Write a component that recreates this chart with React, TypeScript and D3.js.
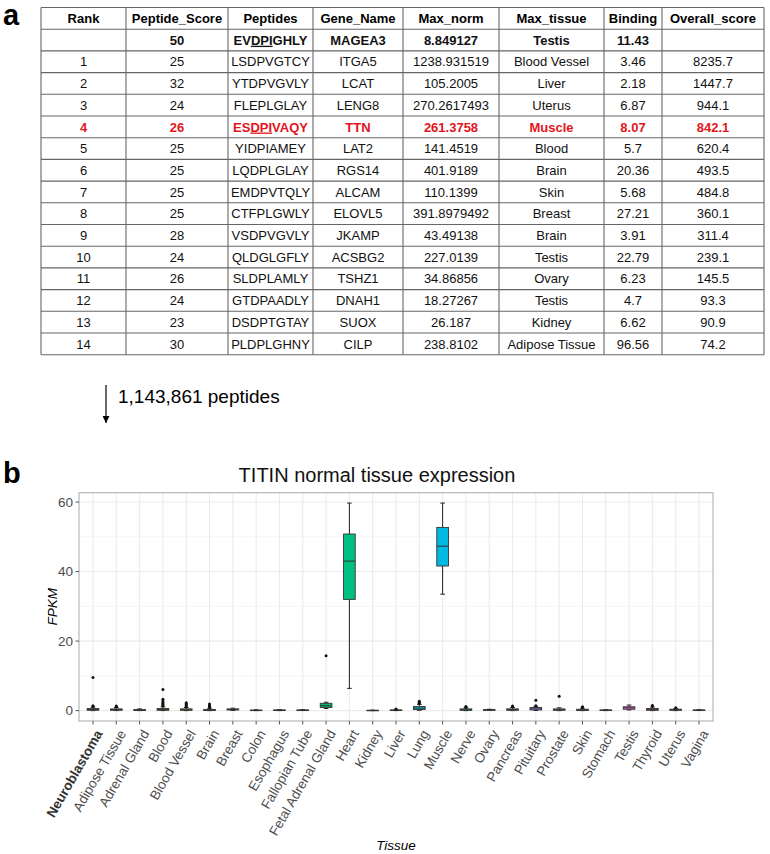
import React, { useRef, useEffect } from 'react';
import * as d3 from 'd3';

// ---- table (panel a) ----
const headers = ["Rank", "Peptide_Score", "Peptides", "Gene_Name", "Max_norm", "Max_tissue", "Binding", "Overall_score"];
const ranks = ["", "1", "2", "3", "4", "5", "6", "7", "8", "9", "10", "11", "12", "13", "14"];
const peptideScores = ["50", "25", "32", "24", "26", "25", "25", "25", "25", "28", "24", "26", "24", "23", "30"];
const peptides = ["EVDPIGHLY", "LSDPVGTCY", "YTDPVGVLY", "FLEPLGLAY", "ESDPIVAQY", "YIDPIAMEY", "LQDPLGLAY", "EMDPVTQLY", "CTFPLGWLY", "VSDPVGVLY", "QLDGLGFLY", "SLDPLAMLY", "GTDPAADLY", "DSDPTGTAY", "PLDPLGHNY"];
const geneNames = ["MAGEA3", "ITGA5", "LCAT", "LENG8", "TTN", "LAT2", "RGS14", "ALCAM", "ELOVL5", "JKAMP", "ACSBG2", "TSHZ1", "DNAH1", "SUOX", "CILP"];
const maxNorms = ["8.849127", "1238.931519", "105.2005", "270.2617493", "261.3758", "141.4519", "401.9189", "110.1399", "391.8979492", "43.49138", "227.0139", "34.86856", "18.27267", "26.187", "238.8102"];
const maxTissues = ["Testis", "Blood Vessel", "Liver", "Uterus", "Muscle", "Blood", "Brain", "Skin", "Breast", "Brain", "Testis", "Ovary", "Testis", "Kidney", "Adipose Tissue"];
const bindings = ["11.43", "3.46", "2.18", "6.87", "8.07", "5.7", "20.36", "5.68", "27.21", "3.91", "22.79", "6.23", "4.7", "6.62", "96.56"];
const overallScores = ["", "8235.7", "1447.7", "944.1", "842.1", "620.4", "493.5", "484.8", "360.1", "311.4", "239.1", "145.5", "93.3", "90.9", "74.2"];

const peptideCount = "1,143,861 peptides";

// ---- boxplot (panel b) ----
const tissues = ["Neuroblastoma", "Adipose Tissue", "Adrenal Gland", "Blood", "Blood Vessel", "Brain", "Breast", "Colon", "Esophagus", "Fallopian Tube", "Fetal Adrenal Gland", "Heart", "Kidney", "Liver", "Lung", "Muscle", "Nerve", "Ovary", "Pancreas", "Pituitary", "Prostate", "Skin", "Stomach", "Testis", "Thyroid", "Uterus", "Vagina"];
const whiskerLow = [0, 0, 0, 0, 0, 0, 0.05, 0, 0, 0.02, 0.6, 6.4, 0, 0, 0.1, 33.5, 0, 0.05, 0, 0.05, 0, 0, 0, 0.2, 0, 0, 0.02];
const q1 = [0.1, 0.1, 0.05, 0.1, 0.1, 0.05, 0.2, 0.02, 0.05, 0.05, 0.9, 32.0, 0.02, 0.05, 0.3, 41.6, 0.1, 0.1, 0.1, 0.2, 0.1, 0.05, 0.05, 0.4, 0.1, 0.1, 0.05];
const medians = [0.3, 0.3, 0.15, 0.3, 0.25, 0.15, 0.3, 0.08, 0.1, 0.1, 1.4, 43.0, 0.05, 0.1, 0.7, 47.3, 0.25, 0.2, 0.3, 0.5, 0.25, 0.2, 0.1, 0.8, 0.3, 0.25, 0.1];
const q3 = [0.6, 0.5, 0.3, 0.6, 0.5, 0.35, 0.5, 0.15, 0.2, 0.2, 2.1, 50.8, 0.1, 0.2, 1.2, 52.7, 0.5, 0.3, 0.5, 0.9, 0.5, 0.4, 0.2, 1.1, 0.6, 0.4, 0.2];
const whiskerHigh = [1.0, 0.9, 0.5, 1.1, 0.9, 0.7, 0.7, 0.25, 0.3, 0.3, 2.4, 59.7, 0.15, 0.35, 1.8, 59.7, 0.8, 0.4, 0.9, 1.2, 0.8, 0.7, 0.3, 1.6, 1.0, 0.6, 0.3];
const outliers = [
  [1.2, 1.4, 9.5],
  [1.1, 1.3],
  [],
  [1.4, 1.7, 2.0, 2.3, 2.8, 3.3, 6.1],
  [1.1, 1.4, 1.7, 2.0, 2.3],
  [0.9, 1.2, 1.5, 1.9],
  [],
  [],
  [],
  [],
  [15.8],
  [],
  [],
  [0.5],
  [2.1, 2.4, 2.7],
  [],
  [1.0, 1.2],
  [],
  [1.1, 1.3],
  [1.4, 3.0],
  [4.1],
  [0.9, 1.1],
  [],
  [],
  [1.3, 1.5],
  [0.8],
  []
];
const yTicks = [0, 20, 40, 60];
const yMinorTicks = [10, 30, 50];

const FONT = "'Liberation Sans', Arial, Helvetica, sans-serif";

// ggplot2-like hue palette (polar LUV, c=100, l=65)
function hueColor(h: number) {
  const L = 65, C = 100;
  const hr = (h * Math.PI) / 180;
  const u = C * Math.cos(hr), v = C * Math.sin(hr);
  const Xn = 95.047, Yn = 100, Zn = 108.883;
  const den = Xn + 15 * Yn + 3 * Zn;
  const un = (4 * Xn) / den, vn = (9 * Yn) / den;
  const Y = Yn * Math.pow((L + 16) / 116, 3);
  const up = u / (13 * L) + un, vp = v / (13 * L) + vn;
  const X = (Y * 9 * up) / (4 * vp);
  const Z = (Y * (12 - 3 * up - 20 * vp)) / (4 * vp);
  const x = X / 100, y = Y / 100, z = Z / 100;
  const lin = [
    3.2404542 * x - 1.5371385 * y - 0.4985314 * z,
    -0.969266 * x + 1.8760108 * y + 0.041556 * z,
    0.0556434 * x - 0.2040259 * y + 1.0572252 * z
  ];
  const [r, g, b] = lin.map(c => {
    const s = c <= 0.0031308 ? 12.92 * c : 1.055 * Math.pow(c, 1 / 2.4) - 0.055;
    return Math.round(Math.max(0, Math.min(1, s)) * 255);
  });
  return d3.rgb(r, g, b).formatHex();
}

const App = () => {
  const svgRef = useRef<SVGSVGElement>(null);

  useEffect(() => {
    const svg = d3.select(svgRef.current);
    svg.selectAll("*").remove();

    // ===== panel a: table =====
    const colEdges = [41, 126, 228, 313, 403, 499, 604, 662, 764];
    const tableTop = 7.5;
    const rowH = 21.7;
    const columns = [ranks, peptideScores, peptides, geneNames, maxNorms, maxTissues, bindings, overallScores];
    const nRows = ranks.length + 1;
    const highlightRow = ranks.indexOf("4");

    svg.append("text")
      .attr("x", 3).attr("y", 25)
      .style("font-family", FONT).style("font-size", "29px").style("font-weight", "bold")
      .text("a");

    const tg = svg.append("g");
    // grid lines
    for (let r = 0; r <= nRows; r++) {
      tg.append("line")
        .attr("x1", colEdges[0]).attr("x2", colEdges[colEdges.length - 1])
        .attr("y1", tableTop + r * rowH).attr("y2", tableTop + r * rowH)
        .attr("stroke", "#666").attr("stroke-width", 1.1);
    }
    colEdges.forEach(x => {
      tg.append("line")
        .attr("x1", x).attr("x2", x)
        .attr("y1", tableTop).attr("y2", tableTop + nRows * rowH)
        .attr("stroke", "#666").attr("stroke-width", 1.1);
    });

    const cellText = (ci: number, rowIdx: number, txt: string, bold: boolean, color: string) => {
      const cx = (colEdges[ci] + colEdges[ci + 1]) / 2;
      const cy = tableTop + rowIdx * rowH + rowH / 2 + 4.7;
      const t = tg.append("text")
        .attr("x", cx).attr("y", cy)
        .attr("text-anchor", "middle")
        .style("font-family", FONT).style("font-size", "13px")
        .style("font-weight", bold ? "bold" : "normal")
        .attr("fill", color);
      const k = txt.indexOf("DPI");
      if (ci === 2 && bold && k >= 0) {
        t.append("tspan").text(txt.slice(0, k));
        t.append("tspan").style("text-decoration", "underline").text("DPI");
        t.append("tspan").text(txt.slice(k + 3));
      } else {
        t.text(txt);
      }
    };

    headers.forEach((h, ci) => cellText(ci, 0, h, true, "#000"));
    columns.forEach((col, ci) => {
      col.forEach((v, ri) => {
        const isRef = ri === 0;
        const isHi = ri === highlightRow;
        cellText(ci, ri + 1, v, isRef || isHi, isHi ? "#e3141b" : "#111");
      });
    });

    // arrow + count
    svg.append("defs").append("marker")
      .attr("id", "arrowHead").attr("viewBox", "0 0 10 10")
      .attr("refX", 10).attr("refY", 5)
      .attr("markerWidth", 7).attr("markerHeight", 7)
      .attr("markerUnits", "userSpaceOnUse")
      .attr("orient", "auto")
      .append("path").attr("d", "M0,0 L10,5 L0,10 z").attr("fill", "#000");
    svg.append("line")
      .attr("x1", 106).attr("x2", 106).attr("y1", 385).attr("y2", 423)
      .attr("stroke", "#000").attr("stroke-width", 1.2)
      .attr("marker-end", "url(#arrowHead)");
    svg.append("text")
      .attr("x", 118).attr("y", 403)
      .style("font-family", FONT).style("font-size", "19px")
      .text(peptideCount);

    // ===== panel b: boxplot =====
    const left = 79, right = 713, top = 492.7, bottom = 721;

    svg.append("text")
      .attr("x", 3).attr("y", 483)
      .style("font-family", FONT).style("font-size", "29px").style("font-weight", "bold")
      .text("b");

    const x = d3.scalePoint<string>().domain(tissues).range([left, right]).padding(0.6);
    const step = x.step();

    const allVals = whiskerHigh.concat(whiskerLow, outliers.flat());
    const lo = Math.min(0, d3.min(allVals) as number);
    const hi = d3.max(allVals) as number;
    const pad = (hi - lo) * 0.05;
    const y = d3.scaleLinear().domain([lo - pad, hi + pad]).range([bottom, top]);

    const color = (i: number) => hueColor(15 + (360 * i) / tissues.length);

    const g = svg.append("g");
    // panel background grid
    yMinorTicks.forEach(v => {
      g.append("line").attr("x1", left).attr("x2", right).attr("y1", y(v)).attr("y2", y(v))
        .attr("stroke", "#f3f3f3").attr("stroke-width", 0.8);
    });
    yTicks.forEach(v => {
      g.append("line").attr("x1", left).attr("x2", right).attr("y1", y(v)).attr("y2", y(v))
        .attr("stroke", "#ebebeb").attr("stroke-width", 1.1);
    });
    tissues.forEach(t => {
      g.append("line").attr("x1", x(t)!).attr("x2", x(t)!).attr("y1", top).attr("y2", bottom)
        .attr("stroke", "#ebebeb").attr("stroke-width", 1.1);
    });

    // boxes
    const boxW = step * 0.5;
    const capW = step * 0.2;
    tissues.forEach((t, i) => {
      const cx = x(t)!;
      const bg = g.append("g");
      // whiskers
      bg.append("line").attr("x1", cx).attr("x2", cx).attr("y1", y(q3[i])).attr("y2", y(whiskerHigh[i]))
        .attr("stroke", "#222").attr("stroke-width", 1);
      bg.append("line").attr("x1", cx).attr("x2", cx).attr("y1", y(q1[i])).attr("y2", y(whiskerLow[i]))
        .attr("stroke", "#222").attr("stroke-width", 1);
      [whiskerHigh[i], whiskerLow[i]].forEach(v => {
        bg.append("line").attr("x1", cx - capW / 2).attr("x2", cx + capW / 2).attr("y1", y(v)).attr("y2", y(v))
          .attr("stroke", "#222").attr("stroke-width", 1);
      });
      bg.append("rect")
        .attr("x", cx - boxW / 2).attr("width", boxW)
        .attr("y", y(q3[i])).attr("height", Math.max(0.5, y(q1[i]) - y(q3[i])))
        .attr("fill", color(i)).attr("stroke", "#333").attr("stroke-width", 0.9);
      bg.append("line").attr("x1", cx - boxW / 2).attr("x2", cx + boxW / 2)
        .attr("y1", y(medians[i])).attr("y2", y(medians[i]))
        .attr("stroke", "#333").attr("stroke-width", 1);
      outliers[i].forEach(v => {
        bg.append("circle").attr("cx", cx).attr("cy", y(v)).attr("r", 1.5).attr("fill", "#111");
      });
    });

    // panel border
    g.append("rect").attr("x", left).attr("y", top).attr("width", right - left).attr("height", bottom - top)
      .attr("fill", "none").attr("stroke", "#bdbdbd").attr("stroke-width", 1.3);

    // y axis
    yTicks.forEach(v => {
      g.append("line").attr("x1", left - 3.5).attr("x2", left).attr("y1", y(v)).attr("y2", y(v))
        .attr("stroke", "#555").attr("stroke-width", 1);
      g.append("text").attr("x", left - 6).attr("y", y(v)).attr("dy", "0.35em")
        .attr("text-anchor", "end")
        .style("font-family", FONT).style("font-size", "13.5px").attr("fill", "#4d4d4d")
        .text(String(v));
    });

    // x axis
    tissues.forEach((t, i) => {
      const cx = x(t)!;
      g.append("line").attr("x1", cx).attr("x2", cx).attr("y1", bottom).attr("y2", bottom + 3.5)
        .attr("stroke", "#555").attr("stroke-width", 1);
      g.append("text")
        .attr("transform", `translate(${cx + 6},${bottom + 10}) rotate(-60)`)
        .attr("text-anchor", "end").attr("dy", "0.35em")
        .style("font-family", FONT).style("font-size", "13.5px")
        .style("font-weight", i === 0 ? "bold" : "normal")
        .attr("fill", i === 0 ? "#333" : "#4d4d4d")
        .text(t);
    });

    // titles
    svg.append("text").attr("x", 377).attr("y", 481.5).attr("text-anchor", "middle")
      .style("font-family", FONT).style("font-size", "20px").attr("fill", "#111")
      .text("TITIN normal tissue expression");
    svg.append("text")
      .attr("transform", `translate(57,${(top + bottom) / 2}) rotate(-90)`)
      .attr("text-anchor", "middle")
      .style("font-family", FONT).style("font-size", "13.5px").style("font-style", "italic")
      .text("FPKM");
    svg.append("text").attr("x", 396).attr("y", 850).attr("text-anchor", "middle")
      .style("font-family", FONT).style("font-size", "13.5px").style("font-style", "italic")
      .text("Tissue");
  }, []);

  return (
    <div style={{ position: "absolute", left: 0, top: 0 }}>
      <svg ref={svgRef} width={770} height={854} style={{ display: "block", background: "#fff" }}></svg>
    </div>
  );
};

export default App;
